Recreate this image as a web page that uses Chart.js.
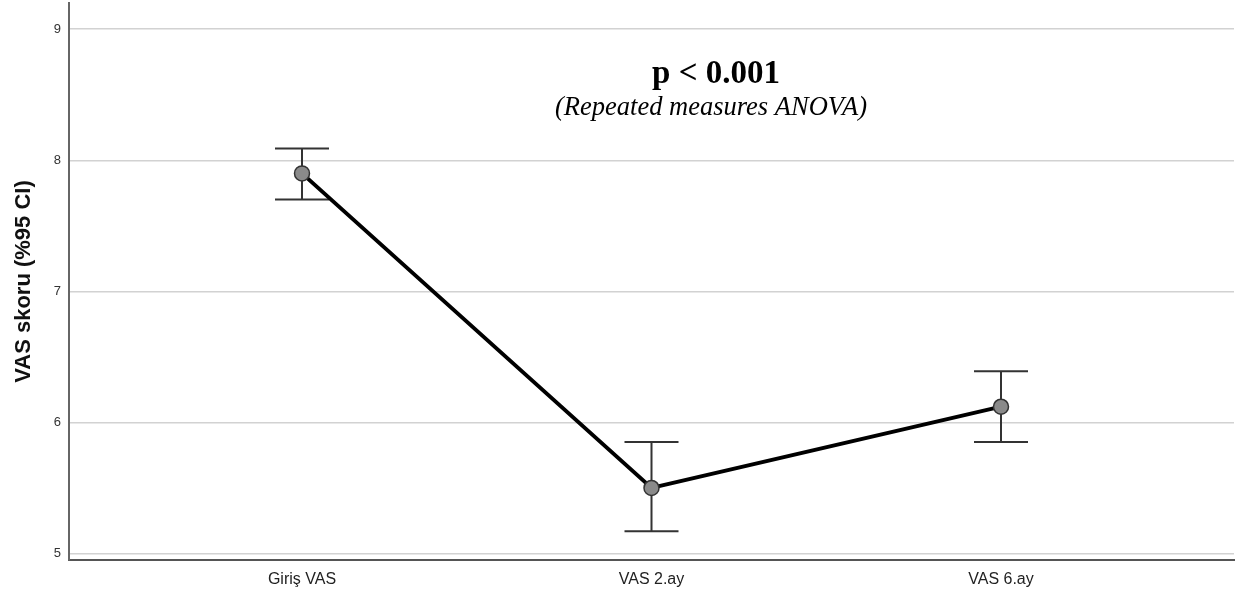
<!DOCTYPE html>
<html>
<head>
<meta charset="utf-8">
<script src="https://cdn.jsdelivr.net/npm/chart.js@4.4.1/dist/chart.umd.min.js"></script>
<style>
  html, body { margin: 0; padding: 0; background: #ffffff; }
  #wrap { width: 1240px; height: 602px; position: relative; }
</style>
</head>
<body>
<div id="wrap"><canvas id="c" width="1240" height="602"></canvas></div>
<script>
const categories = ['Giriş VAS', 'VAS 2.ay', 'VAS 6.ay'];
const means = [7.90, 5.50, 6.12];
const ciLower = [7.70, 5.17, 5.85];
const ciUpper = [8.09, 5.85, 6.39];
const yTicks = [5, 6, 7, 8, 9];
const yTitle = 'VAS skoru (%95 CI)';
const annotationMain = 'p < 0.001';
const annotationSub = '(Repeated measures ANOVA)';

const errorBarPlugin = {
  id: 'errorBars',
  beforeDatasetsDraw(chart) {
    const ctx = chart.ctx;
    const xs = chart.scales.x, ys = chart.scales.y;
    ctx.save();
    ctx.strokeStyle = '#333333';
    ctx.lineWidth = 2;
    categories.forEach((c, i) => {
      const px = xs.getPixelForValue(i);
      const yl = ys.getPixelForValue(ciLower[i]);
      const yu = ys.getPixelForValue(ciUpper[i]);
      ctx.beginPath();
      ctx.moveTo(px, yl); ctx.lineTo(px, yu);
      ctx.moveTo(px - 27, yl); ctx.lineTo(px + 27, yl);
      ctx.moveTo(px - 27, yu); ctx.lineTo(px + 27, yu);
      ctx.stroke();
    });
    ctx.restore();
  }
};

const annotationPlugin = {
  id: 'pAnnotation',
  afterDraw(chart) {
    const ctx = chart.ctx;
    ctx.save();
    ctx.fillStyle = '#000000';
    ctx.textAlign = 'center';
    ctx.textBaseline = 'alphabetic';
    ctx.font = 'bold 33px "Liberation Serif", "Times New Roman", serif';
    ctx.fillText(annotationMain, 716, 83);
    ctx.font = 'italic 26.5px "Liberation Serif", "Times New Roman", serif';
    ctx.fillText(annotationSub, 711, 115);
    ctx.restore();
  }
};

new Chart(document.getElementById('c'), {
  type: 'line',
  data: {
    datasets: [{
      data: categories.map((c, i) => ({ x: i, y: means[i] })),
      borderColor: '#000000',
      borderWidth: 4,
      pointRadius: 7.5,
      pointBackgroundColor: '#8a8a8a',
      pointBorderColor: '#333333',
      pointBorderWidth: 1.5,
      tension: 0,
      fill: false
    }]
  },
  options: {
    responsive: false,
    animation: false,
    layout: { autoPadding: false, padding: { left: 0, right: 6, top: 3, bottom: 0 } },
    plugins: { legend: { display: false }, tooltip: { enabled: false } },
    scales: {
      x: {
        type: 'linear',
        min: -2 / 3,
        max: 8 / 3,
        afterBuildTicks: s => { s.ticks = categories.map((c, i) => ({ value: i })); },
        afterFit: s => { s.height = 42; s.paddingLeft = 0; s.paddingRight = 0; },
        ticks: {
          callback: v => categories[v],
          font: { family: '"Liberation Sans", Arial, sans-serif', size: 16 },
          color: '#222222',
          padding: 10,
          maxRotation: 0
        },
        grid: { display: false, drawTicks: false },
        border: { display: true, color: '#555555', width: 2 }
      },
      y: {
        min: 4.95,
        max: 9.2,
        afterBuildTicks: s => { s.ticks = yTicks.map(v => ({ value: v })); },
        afterFit: s => { s.width = 69; s.paddingTop = 0; s.paddingBottom = 0; },
        ticks: {
          font: { family: '"Liberation Sans", Arial, sans-serif', size: 13 },
          color: '#333333',
          padding: 8
        },
        grid: { color: '#d2d2d2', lineWidth: 1.5, drawTicks: false },
        border: { display: true, color: '#666666', width: 2 },
        title: {
          display: true,
          text: yTitle,
          font: { family: '"Liberation Sans", Arial, sans-serif', size: 22, weight: 'bold' },
          color: '#111111',
          padding: { top: 11, bottom: 0 }
        }
      }
    }
  },
  plugins: [errorBarPlugin, annotationPlugin]
});
</script>
</body>
</html>
